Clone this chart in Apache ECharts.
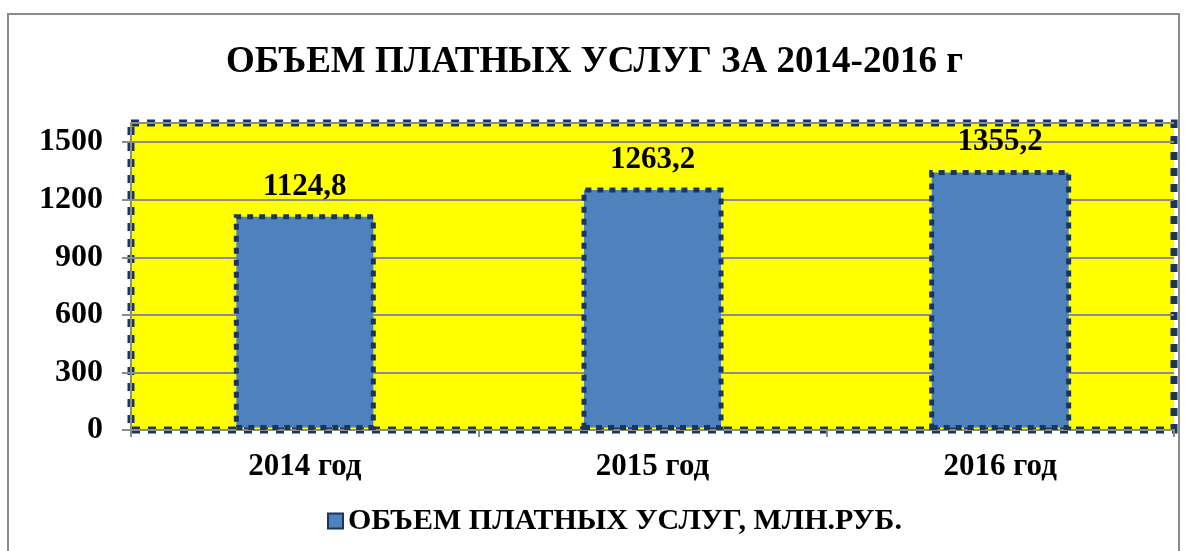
<!DOCTYPE html>
<html>
<head>
<meta charset="utf-8">
<script src="https://cdn.jsdelivr.net/npm/echarts@6/dist/echarts.min.js"></script>
<style>
  html, body { margin: 0; padding: 0; background: #fff; }
  #frame {
    position: absolute; left: 7px; top: 13px; width: 1173px; height: 600px;
    border: 2px solid #8c8c8c; box-sizing: border-box;
  }
  #chart { position: absolute; left: 0; top: 0; width: 1189px; height: 551px; }
</style>
</head>
<body>
<div id="frame"></div>
<div id="chart"></div>
<script>
// данные
const categories = ['2014 год', '2015 год', '2016 год']
const values = [1124.8, 1263.2, 1355.2]
const seriesName = 'ОБЪЕМ ПЛАТНЫХ УСЛУГ, МЛН.РУБ.'
const titleText = 'ОБЪЕМ ПЛАТНЫХ УСЛУГ ЗА 2014-2016 г'

const font = 'Liberation Serif'
const navy = '#1b365d'

const chart = echarts.init(document.getElementById('chart'))
chart.setOption({
  animation: false,
  title: {
    text: titleText,
    left: 'center',
    top: 39,
    textStyle: { fontFamily: font, fontWeight: 'bold', fontSize: 37, color: '#000' }
  },
  legend: {
    bottom: 10,
    left: 322,
    itemWidth: 15,
    itemHeight: 15,
    itemGap: 4,
    textStyle: { fontFamily: font, fontWeight: 'bold', fontSize: 30, color: '#000' },
    data: [{ name: seriesName, icon: 'rect' }]
  },
  grid: {
    left: 131,
    right: 15,
    top: 123,
    bottom: 121,
    show: true,
    backgroundColor: '#ffff00',
    borderColor: navy,
    borderWidth: 7,
    borderType: [8, 8]
  },
  xAxis: {
    type: 'category',
    data: categories,
    axisLine: { lineStyle: { color: '#8c8c8c', width: 2 } },
    axisTick: { show: true, length: 7, lineStyle: { color: '#8c8c8c', width: 2 } },
    axisLabel: { margin: 21, fontFamily: font, fontWeight: 'bold', fontSize: 31, color: '#000' }
  },
  yAxis: {
    type: 'value',
    min: 0,
    max: 1600,
    interval: 300,
    axisLine: { show: true, lineStyle: { color: '#8c8c8c', width: 2 } },
    axisTick: { show: true, length: 9, lineStyle: { color: '#8c8c8c', width: 2 } },
    axisLabel: {
      showMaxLabel: false,
      margin: 28,
      formatter: v => String(v),
      fontFamily: font, fontWeight: 'bold', fontSize: 32, color: '#000'
    },
    splitLine: { lineStyle: { color: '#8c8c8c', width: 2 } }
  },
  series: [{
    name: seriesName,
    type: 'bar',
    data: values,
    barWidth: 142,
    itemStyle: {
      color: '#4f81bd',
      borderColor: navy,
      borderWidth: 5,
      borderType: [6, 6]
    },
    label: {
      show: true,
      position: 'top',
      distance: 12,
      fontFamily: font, fontWeight: 'bold', fontSize: 31, color: '#000',
      formatter: p => String(p.value).replace('.', ',')
    }
  }]
})
</script>
</body>
</html>
